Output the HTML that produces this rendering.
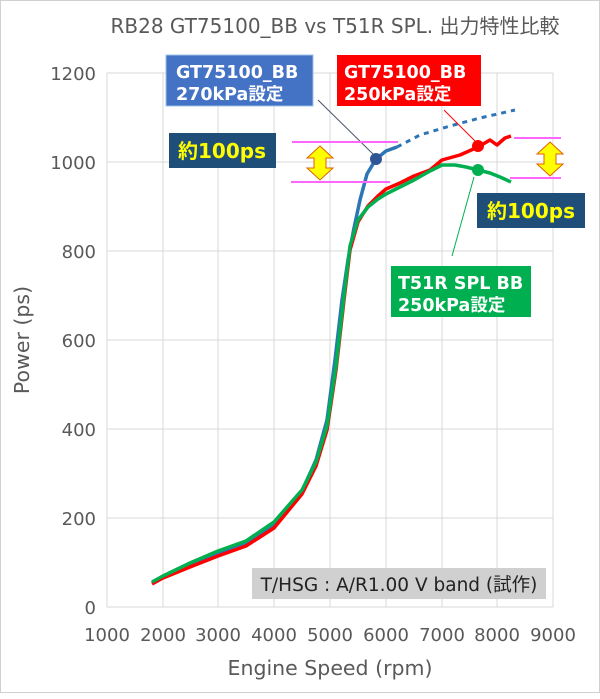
<!DOCTYPE html><html><head><meta charset="utf-8"><style>
body{margin:0;background:#fff}
svg text{font-family:"DejaVu Sans","Noto Sans CJK JP",sans-serif}
</style></head><body>
<svg width="600" height="694" xmlns="http://www.w3.org/2000/svg">
<rect x="0.5" y="0.5" width="599" height="692" fill="#fff" stroke="#d0d0d0"/>
<text x="335" y="33" font-size="20" fill="#595959" text-anchor="middle">RB28 GT75100_BB vs T51R SPL. 出力特性比較</text>
<g stroke="#d9d9d9" stroke-width="1">
<line x1="107" y1="73" x2="553" y2="73"/><line x1="107" y1="162" x2="553" y2="162"/><line x1="107" y1="251" x2="553" y2="251"/><line x1="107" y1="340" x2="553" y2="340"/><line x1="107" y1="429" x2="553" y2="429"/><line x1="107" y1="518" x2="553" y2="518"/><line x1="107" y1="607" x2="553" y2="607"/>
<line x1="107" y1="73" x2="107" y2="607"/><line x1="163" y1="73" x2="163" y2="607"/><line x1="218" y1="73" x2="218" y2="607"/><line x1="274" y1="73" x2="274" y2="607"/><line x1="330" y1="73" x2="330" y2="607"/><line x1="386" y1="73" x2="386" y2="607"/><line x1="442" y1="73" x2="442" y2="607"/><line x1="497" y1="73" x2="497" y2="607"/><line x1="553" y1="73" x2="553" y2="607"/>
</g>
<g font-size="18" fill="#595959" text-anchor="end">
<text x="96" y="80">1200</text><text x="96" y="169">1000</text><text x="96" y="258">800</text><text x="96" y="347">600</text><text x="96" y="436">400</text><text x="96" y="525">200</text><text x="96" y="614">0</text>
</g>
<g font-size="18" fill="#595959" text-anchor="middle">
<text x="107" y="641">1000</text><text x="163" y="641">2000</text><text x="218" y="641">3000</text><text x="274" y="641">4000</text><text x="330" y="641">5000</text><text x="386" y="641">6000</text><text x="442" y="641">7000</text><text x="497" y="641">8000</text><text x="553" y="641">9000</text>
</g>
<text x="330" y="675" font-size="20.5" fill="#595959" text-anchor="middle">Engine Speed (rpm)</text>
<text transform="translate(29,340) rotate(-90)" font-size="20.5" fill="#595959" text-anchor="middle">Power (ps)</text>
<rect x="252" y="568" width="294" height="31" fill="#d0d0d0"/>
<text x="399" y="591" font-size="18.5" fill="#222" text-anchor="middle">T/HSG : A/R1.00 V band (試作)</text>
<path d="M152,583 L163,577 L190,565 L218,553 L246,543 L274,525 L302,491 L316,460 L327,420 L335,360 L342,300 L348,260 L354,228 L360,200 L367,174 L376,159 L386,151 L397,147" fill="none" stroke="#2e75b6" stroke-width="3.5" stroke-linejoin="round"/>
<path d="M397,147 L420,135 L450,126 L480,118 L515,110" fill="none" stroke="#2e75b6" stroke-width="3" stroke-dasharray="5,5"/>
<path d="M152,584 L163,578 L190,567 L218,556 L246,546 L274,528 L302,494 L316,466 L327,430 L336,370 L344,300 L350,250 L358,222 L368,206 L378,196 L386,189 L400,183 L414,176 L430,170 L442,160 L460,155 L478,147 L490,140 L497,145 L505,138 L511,136" fill="none" stroke="#ff0000" stroke-width="3.5" stroke-linejoin="round"/>
<path d="M152,582 L163,576 L190,563 L218,551 L246,541 L274,522 L302,490 L316,462 L327,426 L336,366 L344,296 L350,246 L358,220 L368,207 L378,199 L386,194 L400,187 L414,180 L430,171 L442,165 L455,165 L466,167 L478,170 L490,173 L500,177 L511,182" fill="none" stroke="#00b050" stroke-width="3.5" stroke-linejoin="round"/>
<circle cx="376" cy="159" r="6" fill="#2f5597"/>
<circle cx="478" cy="146" r="6" fill="#ff0000"/>
<circle cx="478" cy="170" r="6" fill="#00b050"/>
<line x1="318" y1="100" x2="374" y2="155" stroke="#44546a" stroke-width="1"/>
<line x1="444" y1="110" x2="476" y2="142" stroke="#ff0000" stroke-width="1"/>
<line x1="474" y1="177" x2="452" y2="256" stroke="#00b050" stroke-width="1"/>
<g stroke="#ff66ff" stroke-width="2">
<line x1="292" y1="142" x2="398" y2="142"/><line x1="291" y1="182" x2="390" y2="182"/>
<line x1="514" y1="138" x2="561" y2="138"/><line x1="510" y1="178" x2="561" y2="178"/>
</g>
<g fill="#ffff00" stroke="#e06000" stroke-width="1">
<polygon points="320,146 333,158 326,158 326,168 333,168 320,180 307,168 314,168 314,158 307,158"/>
<polygon points="550,142 563,154 556,154 556,164 563,164 550,176 537,164 544,164 544,154 537,154"/>
</g>
<rect x="166" y="55" width="147" height="51" fill="#4472c4" stroke="#9dc3e6"/>
<text x="176" y="78" font-size="17.5" font-weight="bold" fill="#fff">GT75100_BB</text>
<text x="176" y="100" font-size="17.5" font-weight="bold" fill="#fff">270kPa設定</text>
<rect x="337" y="55" width="144" height="51" fill="#ff0000"/>
<text x="344" y="78" font-size="17.5" font-weight="bold" fill="#fff">GT75100_BB</text>
<text x="344" y="100" font-size="17.5" font-weight="bold" fill="#fff">250kPa設定</text>
<rect x="391" y="266" width="140" height="51" fill="#00b050"/>
<text x="398" y="289" font-size="17.5" font-weight="bold" fill="#fff">T51R SPL BB</text>
<text x="398" y="311" font-size="17.5" font-weight="bold" fill="#fff">250kPa設定</text>
<rect x="169" y="133" width="107" height="35" fill="#1f4e79"/>
<text x="222" y="158" font-size="20" font-weight="bold" fill="#ffff00" text-anchor="middle">約100ps</text>
<rect x="477" y="193" width="108" height="35" fill="#1f4e79"/>
<text x="531" y="218" font-size="20" font-weight="bold" fill="#ffff00" text-anchor="middle">約100ps</text>
</svg>
</body></html>
